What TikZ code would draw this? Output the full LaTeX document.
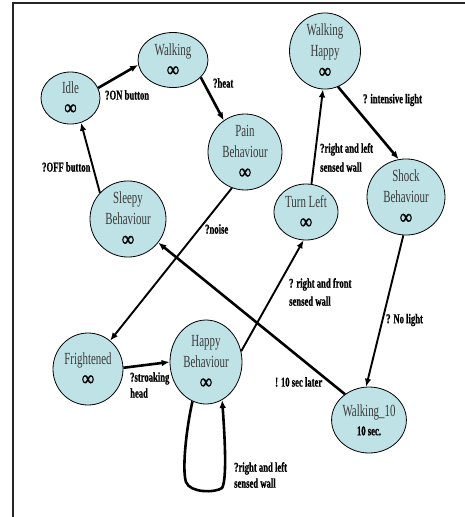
\documentclass[tikz,border=0pt]{standalone}
\usepackage{fontspec}
\setmainfont{Liberation Serif}[FakeStretch=0.64]
\newfontfamily\symfont{Liberation Serif}[FakeStretch=0.8,FakeBold=1.5]
\newfontfamily\lblfamily{Liberation Serif Bold}[FakeStretch=0.64,FakeBold=0.8]
\usetikzlibrary{shapes.geometric,arrows.meta}
\definecolor{statefill}{RGB}{190,226,230}
\definecolor{statetext}{RGB}{58,58,58}
\newcommand{\stinf}{{\color{black}\symfont\bfseries\fontsize{21}{21}\selectfont ∞}}
\newcommand{\stsub}[1]{{\color{black}\lblfamily\fontsize{13.5}{21}\selectfont #1}}
\tikzset{
  state/.style={ellipse, draw=black, line width=0.8pt, fill=statefill,
    inner sep=0pt, align=center, text=statetext,
    font=\fontsize{17}{21}\selectfont},
  lbl/.style={font=\lblfamily\fontsize{13.5}{17}\selectfont, align=left,
    anchor=west, inner sep=0pt},
  trans/.style={line width=1.9pt, -{Latex[length=8pt,width=6.5pt]}},
  heavy/.style={trans, line width=2.6pt}
}
\begin{document}
\begin{tikzpicture}[x=1pt,y=1pt]
\useasboundingbox (0,0) rectangle (465,-517);
% page frame (top and left edges)
\draw[line width=1.6pt, black!85] (13,-517) -- (13,-3) -- (466,-3);

% states
\node[state, minimum width=59, minimum height=52] (idle)   at (70.5,-98) {Idle\\\stinf};
\node[state, minimum width=70, minimum height=55] (walk)   at (173,-60)  {Walking\\\stinf};
\node[state, minimum width=74, minimum height=76] (pain)   at (245,-152) {Pain\\Behaviour\\\stinf};
\node[state, minimum width=76, minimum height=68] (sleepy) at (128,-219) {Sleepy\\Behaviour\\\stinf};
\node[state, minimum width=71, minimum height=72] (whappy) at (325,-51)  {Walking\\Happy\\\stinf};
\node[state, minimum width=78, minimum height=75] (shock)  at (406,-197) {Shock\\Behaviour\\\stinf};
\node[state, minimum width=64, minimum height=56] (turn)   at (306,-212) {Turn Left\\\stinf};
\node[state, minimum width=70, minimum height=72] (fright) at (88,-369)  {Frightened\\\stinf};
\node[state, minimum width=72, minimum height=84] (happy)  at (206,-362) {Happy\\Behaviour\\\stinf};
\node[state, minimum width=72, minimum height=66] (wten)   at (369,-420) {Walking\_10\\[-2pt]\stsub{10 sec.}};

% transitions
\draw[heavy] (idle.20)    -- (walk.188);
\draw[heavy] (walk.-32)   -- (pain.124);
\draw[trans] (pain.-110)  -- (fright.52);
\draw[trans] (sleepy.137) -- (idle.-67);
\draw[heavy] (wten.133)   -- (sleepy.-38);
\draw[heavy] (fright.2)   -- (happy.180);
\draw[trans] (happy.17)   -- (turn.-95);
\draw[trans] (turn.79)    -- (whappy.-93);
\draw[heavy] (whappy.-70) -- (shock.101);
\draw[trans] (shock.-94)  -- (wten.95);
\draw[heavy] (happy.251) .. controls (186,-430) and (182,-470) .. (186,-482)
  .. controls (190,-493) and (215,-493) .. (222,-488)
  .. controls (227,-480) and (225,-440) .. (happy.-67);

% transition labels
\node[lbl] (lon)    at (105,-95)    {?ON button};
\node[lbl] (lheat)  at (213,-83)    {?heat};
\node[lbl] (loff)   at (42,-167)    {?OFF button};
\node[lbl] (lnoise) at (205,-229)   {?noise};
\node[lbl] (llight) at (363,-100)   {? intensive light};
\node[lbl, font=\lblfamily\fontsize{13.5}{19}\selectfont] (lrl)  at (320,-157.5) {?right and left\\sensed wall};
\node[lbl, font=\lblfamily\fontsize{13.5}{18}\selectfont] (lrf)  at (289,-292)   {? right and front\\sensed wall};
\node[lbl] (lnol)   at (386,-320)   {? No light};
\node[lbl] (lten)   at (275,-382)   {! 10 sec later};
\node[lbl, font=\lblfamily\fontsize{13.5}{16}\selectfont] (lstr) at (130,-385) {?stroaking\\head};
\node[lbl, font=\lblfamily\fontsize{13.5}{16}\selectfont] (lrl2) at (234,-475) {?right and left\\sensed wall};
\end{tikzpicture}
\end{document}
